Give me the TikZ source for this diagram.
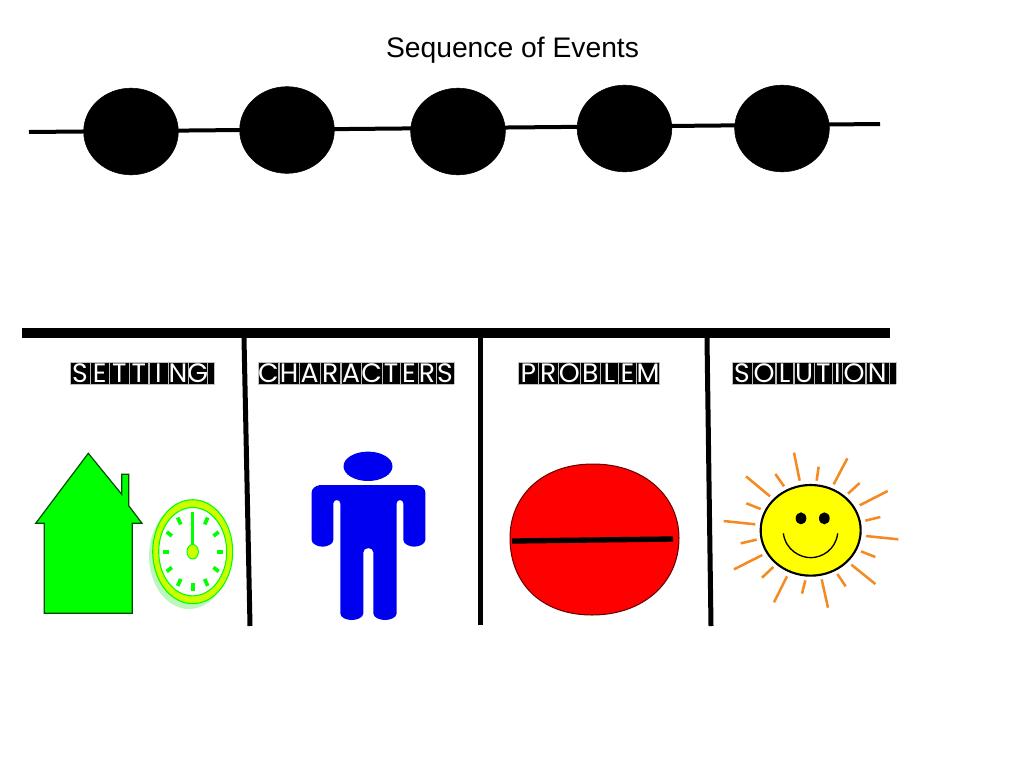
\documentclass[tikz,border=0pt]{standalone}
\usepackage{fontspec}
\setmainfont{Liberation Sans}
\newfontfamily\lblfont{Poppins}
\usetikzlibrary{shapes.geometric}
\definecolor{housegreen}{HTML}{00FF00}
\definecolor{ringyellow}{HTML}{CCFF00}
\definecolor{shadowgreen}{HTML}{BDF7BD}
\definecolor{rayorange}{HTML}{F58A22}
\definecolor{personblue}{HTML}{0000F0}
\definecolor{sunyellow}{HTML}{FFFF00}
\definecolor{blobred}{HTML}{FF0000}
\newcommand{\ltw}[2]{\setlength{\fboxsep}{0pt}\setlength{\fboxrule}{0.25pt}\fcolorbox{white!75!black}{black}{\hbox to #1pt{\hss\vrule width 0pt height 15.5pt depth 1pt\textcolor{white}{#2}\hss}}}
\newcommand{\lt}[1]{\ltw{14.2}{#1}}
\tikzset{
  px/.style={x=0.75pt,y=-0.75pt},
  dot/.style={ellipse,fill=black,draw=black,minimum width=71pt,minimum height=65pt,inner sep=0pt},
  heavy/.style={line width=3.75pt,black},
  lbl/.style={inner sep=0pt,font=\lblfont\fontsize{20}{20}\selectfont,anchor=center},
  ray/.style={rayorange,line width=1.9pt},
  tick/.style={housegreen,line width=2.8pt}
}
\begin{document}
\begin{tikzpicture}[px]
\useasboundingbox (0,0) rectangle (1024,768);
\fill[white] (0,0) rectangle (1024,768);
% title
\node[font=\fontsize{21.2}{25}\selectfont,inner sep=0pt] (title) at (512.5,50) {Sequence of Events};
% timeline
\coordinate (tlstart) at (29,132);
\coordinate (tlend) at (880,124);
\draw[line width=3pt] (tlstart) -- (tlend);
\node[dot] (e1) at (131,131.5) {};
\node[dot] (e2) at (287,130) {};
\node[dot] (e3) at (458,131.5) {};
\node[dot] (e4) at (624.5,128.5) {};
\node[dot] (e5) at (782,128.5) {};
% table lines
\draw[line width=7.5pt] (22,333) -- (890,333);
\draw[heavy] (244,338) -- (250,626);
\draw[heavy] (480,338) -- (480,625);
\draw[heavy] (707,338) -- (711,626);
% labels
\node[lbl] (setting) at (142.5,373) {\lt{S}\lt{E}\lt{T}\lt{T}\lt{I}\lt{N}\lt{G}\ltw{5}{}};
\node[lbl] (characters) at (356,373) {\ltw{15}{C}\ltw{15}{H}\ltw{15}{A}\ltw{15}{R}\ltw{15}{A}\ltw{15}{C}\ltw{13}{T}\ltw{13}{E}\ltw{13}{R}\ltw{13}{S}};
\node[lbl] (problem) at (589,373) {\ltw{14.5}{P}\ltw{14.5}{R}\ltw{16}{O}\ltw{14.5}{B}\ltw{13}{L}\ltw{13}{E}\ltw{17}{M}};
\node[lbl] (solution) at (814,373) {\ltw{15}{S}\ltw{17}{O}\ltw{13}{L}\ltw{15}{U}\ltw{13}{T}\ltw{7}{I}\ltw{17}{O}\ltw{17}{N}\ltw{5}{}};
% house
\draw[fill=housegreen,draw=black!70!green,line width=0.9pt,line join=miter]
  (88.3,453.3) -- (121.7,494.3) -- (121.7,474.3) -- (128.7,474.3) -- (128.7,505.7) -- (142,523.3) -- (132.3,523.3) -- (132.3,613.3) -- (44.3,613.3) -- (44.3,523.3) -- (35.7,523.3) -- cycle;
% clock
\fill[shadowgreen] (189,556) ellipse [x radius=40,y radius=53];
\draw[fill=ringyellow,draw=housegreen,line width=0.8pt] (192.7,551.7) ellipse [x radius=40,y radius=52];
\draw[fill=white,draw=housegreen,line width=0.8pt] (192.7,551.7) ellipse [x radius=34,y radius=44.2];
\foreach \a in {30,60,90,120,150,180,210,240,270,300,330}{
  \draw[tick] ({192.7+24*sin(\a)},{551.7-31.5*cos(\a)}) -- ({192.7+30*sin(\a)},{551.7-39.5*cos(\a)});
}
\draw[housegreen,line width=2.5pt] (192.7,512) -- (192.7,551);
\draw[fill=ringyellow,draw=housegreen,line width=0.7pt] (192.7,551.7) ellipse [x radius=5.7,y radius=7.3];
% person
\fill[personblue] (368,466.3) ellipse [x radius=24.5,y radius=14.7];
\begin{scope}[shift={(300,445)},x=0.25pt,y=-0.25pt]
\fill[personblue] (60,120) -- (350,120) .. controls (365,122) and (376,132) .. (376,142)
 -- (376,285) .. controls (376,298) and (355,305) .. (343,305) .. controls (330,305) and (310,298) .. (310,285)
 -- (310,175) .. controls (310,162) and (290,162) .. (290,175)
 -- (290,505) .. controls (290,518) and (270,525) .. (255,525) .. controls (240,525) and (220,518) .. (220,505)
 -- (220,322) .. controls (220,305) and (190,305) .. (190,322)
 -- (190,505) .. controls (190,518) and (170,525) .. (155,525) .. controls (140,525) and (121,518) .. (121,505)
 -- (121,175) .. controls (121,162) and (100,162) .. (100,175)
 -- (100,285) .. controls (100,298) and (80,305) .. (68,305) .. controls (55,305) and (35,298) .. (35,285)
 -- (35,142) .. controls (35,132) and (45,122) .. (60,120) -- cycle;
\end{scope}
% problem
\draw[fill=blobred,draw=black!60!red,line width=0.75pt] (593,464) .. controls (645,464) and (679,497) .. (679,538) .. controls (679,583) and (643,615) .. (592,615) .. controls (541,615) and (510,583) .. (510,538) .. controls (510,497) and (541,464) .. (593,464) -- cycle;
\draw[line width=4pt] (512,541) -- (673,539);
% sun
\begin{scope}[shift={(715,445)},x=0.25pt,y=-0.25pt]
\foreach \xa/\ya/\xb/\yb in {237/23/254/107,311/65/305/107,397/40/356/118,434/114/399/146,518/138/434/181,496/216/451/227,550/283/453/273,481/336/438/319,481/417/409/359,392/424/367/387,339/488/320/403,271/406/261/446,216/394/177/472,175/366/141/398,142/330/57/373,125/284/77/295,121/238/26/228,137/192/94/175,165/154/93/94,207/124/181/87}{
  \draw[ray] (\xa,\ya) -- (\xb,\yb);
}
\draw[fill=sunyellow,draw=black,line width=1.6pt] (287,256) ellipse [x radius=150,y radius=136];
\fill[black] (258,220) ellipse [x radius=16,y radius=18];
\fill[black] (328,220) ellipse [x radius=16,y radius=18];
\draw[line width=1pt] (205,265) .. controls (212,315) and (255,338) .. (287,338) .. controls (320,338) and (362,315) .. (368,265);
\end{scope}
\end{tikzpicture}
\end{document}
